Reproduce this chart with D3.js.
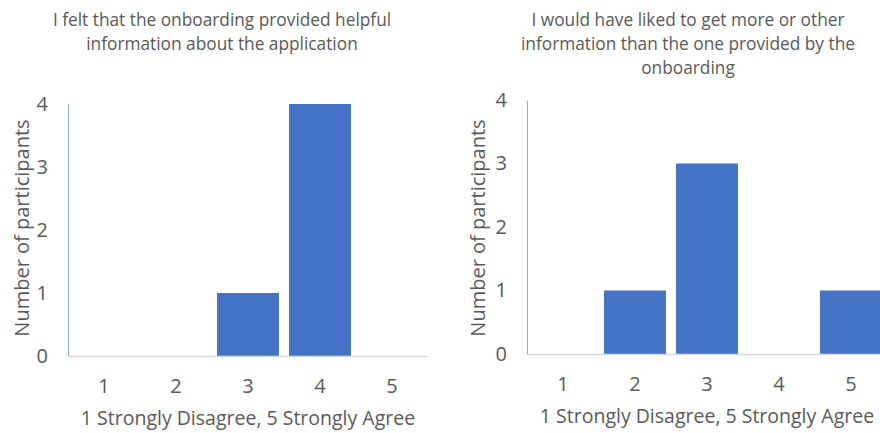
<!DOCTYPE html>
<html>
<head>
<meta charset="utf-8">
<script src="https://cdn.jsdelivr.net/npm/d3@7"></script>
<style>
  body { margin: 0; background: #fff; }
  text { font-family: "Open Sans", sans-serif; fill: #595959; }
</style>
</head>
<body>
<svg id="chart" width="880" height="433"></svg>
<script>
// values
const categories = ["1", "2", "3", "4", "5"];
const helpfulCounts = [0, 0, 1, 4, 0];
const moreInfoCounts = [0, 1, 3, 0, 1];
const yTicks = [0, 1, 2, 3, 4];
const helpfulTitle = ["I felt that the onboarding provided helpful", "information about the application"];
const moreInfoTitle = ["I would have liked to get more or other", "information than the one provided by the", "onboarding"];
const xTitle = "1 Strongly Disagree, 5 Strongly Agree";
const yTitle = "Number of participants";

let svg = d3.select("#chart");

function drawChart(values, titleLines, box) {
    let g = svg.append("g");

    let x = d3.scaleBand()
        .domain(categories)
        .range([box.left, box.right])
        .paddingInner(0.14)
        .paddingOuter(0.07);

    let y = d3.scaleLinear()
        .domain([0, 4])
        .range([box.bottom, box.top]);

    // bars
    g.selectAll(".bar")
        .data(values)
        .enter().append("rect")
        .attr("class", "bar")
        .attr("x", function(d, i) { return x(categories[i]); })
        .attr("width", x.bandwidth())
        .attr("y", function(d) { return y(d); })
        .attr("height", function(d) { return y(0) - y(d); })
        .style("fill", "#4472C4");

    // x axis
    let xAxis = g.append("g")
        .attr("transform", "translate(0," + box.bottom + ")")
        .call(d3.axisBottom(x).tickSize(0).tickPadding(23));
    xAxis.select(".domain").attr("stroke", "#D9D9D9").attr("stroke-width", 1.5);
    xAxis.selectAll("text").style("font-size", "20px").style("fill", "#595959");

    // y axis
    let yAxis = g.append("g")
        .attr("transform", "translate(" + box.left + ",0)")
        .call(d3.axisLeft(y).tickValues(yTicks).tickFormat(d3.format("d")).tickSize(0).tickPadding(20));
    yAxis.select(".domain").attr("stroke", "#8FAADC").attr("stroke-width", 1);
    yAxis.selectAll("text").style("font-size", "20px").style("fill", "#595959");

    // axis titles
    g.append("text")
        .attr("x", (box.left + box.right) / 2)
        .attr("y", box.bottom + 69)
        .attr("text-anchor", "middle")
        .style("font-size", "19.5px")
        .text(xTitle);

    g.append("text")
        .attr("transform", "translate(" + box.yTitleX + ",228) rotate(-90)")
        .attr("text-anchor", "middle")
        .attr("dy", "0.35em")
        .style("font-size", "20px")
        .text(yTitle);

    // chart title
    g.append("text")
        .attr("x", box.titleX)
        .attr("y", 26)
        .attr("text-anchor", "middle")
        .style("font-size", "17.3px")
        .selectAll("tspan")
        .data(titleLines)
        .enter().append("tspan")
        .attr("x", box.titleX)
        .attr("dy", function(d, i) { return i === 0 ? 0 : 24; })
        .text(function(d) { return d; });
}

drawChart(helpfulCounts, helpfulTitle,
    {left: 68, right: 428, top: 104, bottom: 356, yTitleX: 22, titleX: 222});
drawChart(moreInfoCounts, moreInfoTitle,
    {left: 527, right: 887, top: 100, bottom: 354, yTitleX: 478, titleX: 688});
</script>
</body>
</html>
